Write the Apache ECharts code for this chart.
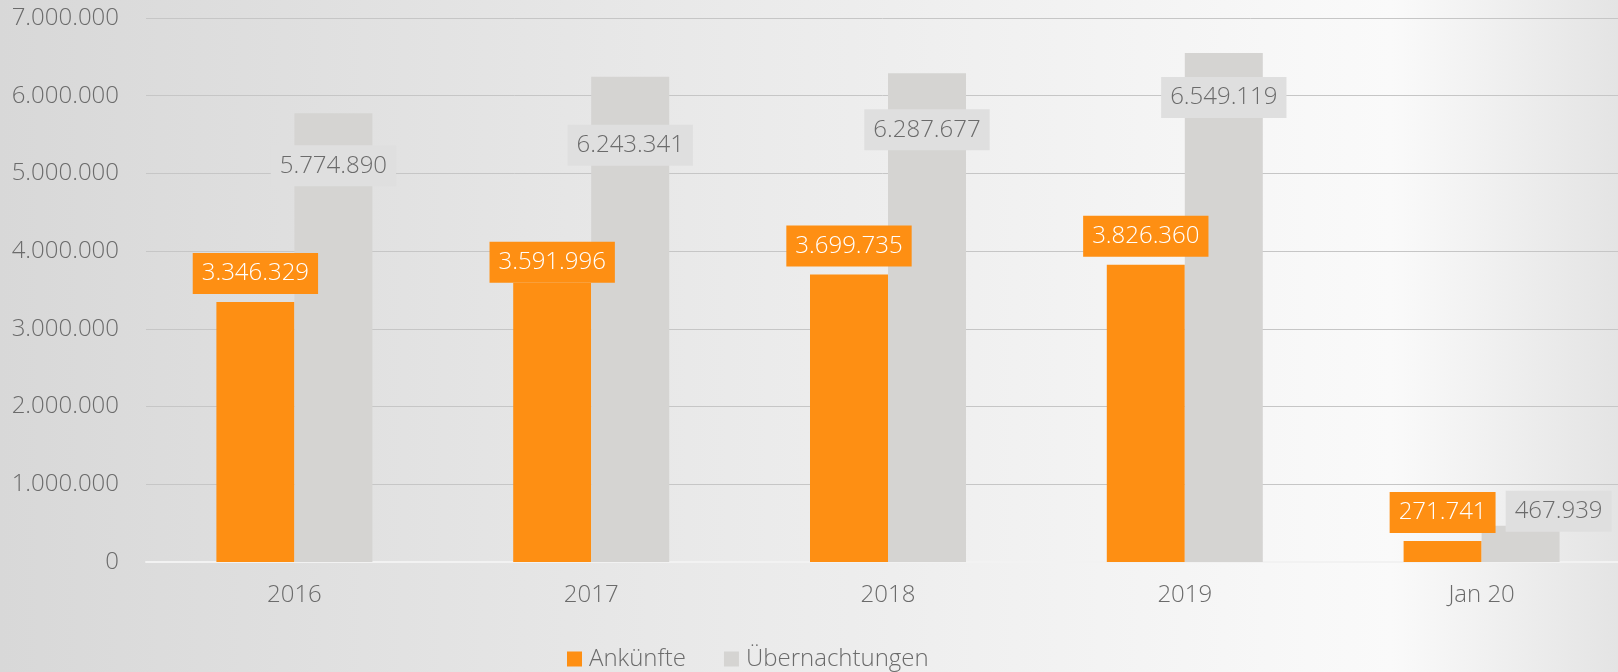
<!DOCTYPE html>
<html>
    <head>
        <meta charset="utf-8">
        <script src="https://cdn.jsdelivr.net/npm/echarts@6/dist/echarts.min.js"></script>
    </head>
    <body>
        <style>
            html, body, #main {
                width: 100%;
                height: 100%;
                margin: 0;
            }
        </style>
        <div id="main"></div>
        <script>
            var categories = ['2016', '2017', '2018', '2019', 'Jan 20'];
            var ankuenfte = [3346329, 3591996, 3699735, 3826360, 271741];
            var uebernachtungen = [5774890, 6243341, 6287677, 6549119, 467939];

            // hand-placed label shifts, as in the original chart
            var orangeShift = [[0, 0], [0, 8], [0, 0], [0, 0], [0, 0]];
            var grayShift = [[0, 27], [0, 43], [0, 31], [0, 19], [38, -40]];

            function de(v) {
                return String(v).replace(/\B(?=(\d{3})+(?!\d))/g, '.');
            }

            var font = '"Open Sans", "Noto Sans", sans-serif';
            var textColor = '#6b6b6b';
            var fs = 24;
            var fw = 300;

            var chart = echarts.init(document.getElementById('main'));

            chart.setOption({
                animation: false,
                backgroundColor: {
                    type: 'linear', x: 0, y: 0, x2: 1, y2: 0,
                    colorStops: [
                        { offset: 0, color: '#d8d8d8' },
                        { offset: 0.5, color: '#ececec' },
                        { offset: 0.86, color: '#fafafa' },
                        { offset: 1, color: '#e4e4e4' }
                    ]
                },
                textStyle: { fontFamily: font },
                grid: {
                    left: 146,
                    top: 18,
                    width: 1484,
                    height: 544,
                    containLabel: false,
                    outerBoundsMode: 'none'
                },
                legend: {
                    left: 562,
                    top: 642,
                    itemWidth: 15,
                    itemHeight: 15,
                    itemGap: 38,
                    icon: 'rect',
                    textStyle: { fontSize: fs, fontWeight: fw, color: textColor, fontFamily: font, padding: [0, 0, 0, 2] },
                    data: ['Ankünfte', 'Übernachtungen']
                },
                xAxis: {
                    type: 'category',
                    data: categories,
                    axisLine: { lineStyle: { color: '#f2f2f2', width: 2 } },
                    axisTick: { show: false },
                    axisLabel: { fontSize: fs, fontWeight: fw, color: textColor, margin: 21, fontFamily: font }
                },
                yAxis: {
                    type: 'value',
                    min: 0,
                    max: 7000000,
                    interval: 1000000,
                    axisLine: { show: false },
                    axisTick: { show: false },
                    splitLine: { lineStyle: { color: '#c6c6c6', width: 1 } },
                    axisLabel: {
                        fontSize: fs, fontWeight: fw, color: textColor, margin: 27, fontFamily: font,
                        formatter: function (v) { return de(v); }
                    }
                },
                series: [{
                    name: 'Ankünfte',
                    type: 'bar',
                    barWidth: 78,
                    barGap: '0%',
                    itemStyle: { color: '#fe8f13' },
                    label: {
                        show: true,
                        position: 'top',
                        distance: 8,
                        fontSize: fs,
                        fontWeight: fw,
                        lineHeight: 29,
                        color: '#ffffff',
                        backgroundColor: '#fe8f13',
                        padding: [6, 9],
                        fontFamily: font,
                        formatter: function (p) { return de(p.value); }
                    },
                    data: ankuenfte.map(function (v, i) {
                        return { value: v, label: { offset: orangeShift[i] } };
                    })
                }, {
                    name: 'Übernachtungen',
                    type: 'bar',
                    barWidth: 78,
                    itemStyle: { color: '#d5d4d2' },
                    label: {
                        show: true,
                        position: 'insideTop',
                        distance: 5,
                        fontSize: fs,
                        fontWeight: fw,
                        lineHeight: 29,
                        color: textColor,
                        backgroundColor: '#dfdfdf',
                        padding: [6, 9],
                        fontFamily: font,
                        formatter: function (p) { return de(p.value); }
                    },
                    data: uebernachtungen.map(function (v, i) {
                        return { value: v, label: { offset: grayShift[i] } };
                    })
                }]
            });
        </script>
    </body>
</html>
